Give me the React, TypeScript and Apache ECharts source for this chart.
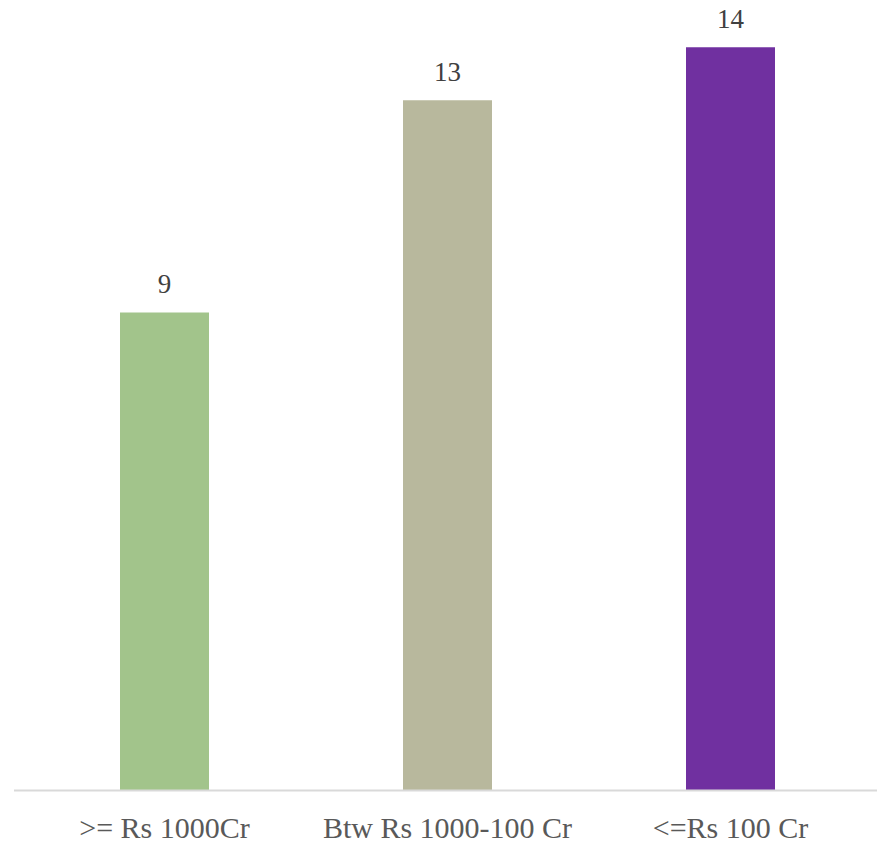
import React, { useEffect, useRef } from "react";
import * as echarts from "echarts";

const categories = [">= Rs 1000Cr", "Btw Rs 1000-100 Cr", "<=Rs 100 Cr"];
const values = [9, 13, 14];
const barColors = ["#A2C48B", "#B8B89D", "#7030A0"];

export default function App() {
  const ref = useRef<HTMLDivElement>(null);
  useEffect(() => {
    const chart = echarts.init(ref.current!, null, { renderer: "svg" });
    chart.setOption({
      animation: false,
      backgroundColor: "#ffffff",
      grid: { left: 23, width: 849, top: 10, height: 780, containLabel: false },
      xAxis: {
        type: "category",
        data: categories,
        axisLine: { show: false },
        axisTick: { show: false },
        axisLabel: {
          interval: 0,
          hideOverlap: false,
          color: "#595959",
          fontFamily: "Liberation Serif, serif",
          fontSize: 30,
          margin: 22,
        },
      },
      yAxis: {
        type: "value",
        min: 0,
        max: 14.7,
        show: false,
        splitLine: { show: false },
      },
      graphic: [
        {
          type: "line",
          shape: { x1: 14, y1: 790.5, x2: 877, y2: 790.5 },
          style: { stroke: "#D9D9D9", lineWidth: 2 },
          z: 10,
        },
      ],
      series: [
        {
          type: "bar",
          barWidth: 89,
          data: values.map((v, i) => ({ value: v, itemStyle: { color: barColors[i] } })),
          label: {
            show: true,
            position: "top",
            distance: 15,
            color: "#404040",
            fontFamily: "Liberation Serif, serif",
            fontSize: 27,
          },
        },
      ],
    });
    return () => chart.dispose();
  }, []);
  return (
    <div
      ref={ref}
      style={{ position: "fixed", left: 0, top: 0, width: 877, height: 842 }}
    />
  );
}
